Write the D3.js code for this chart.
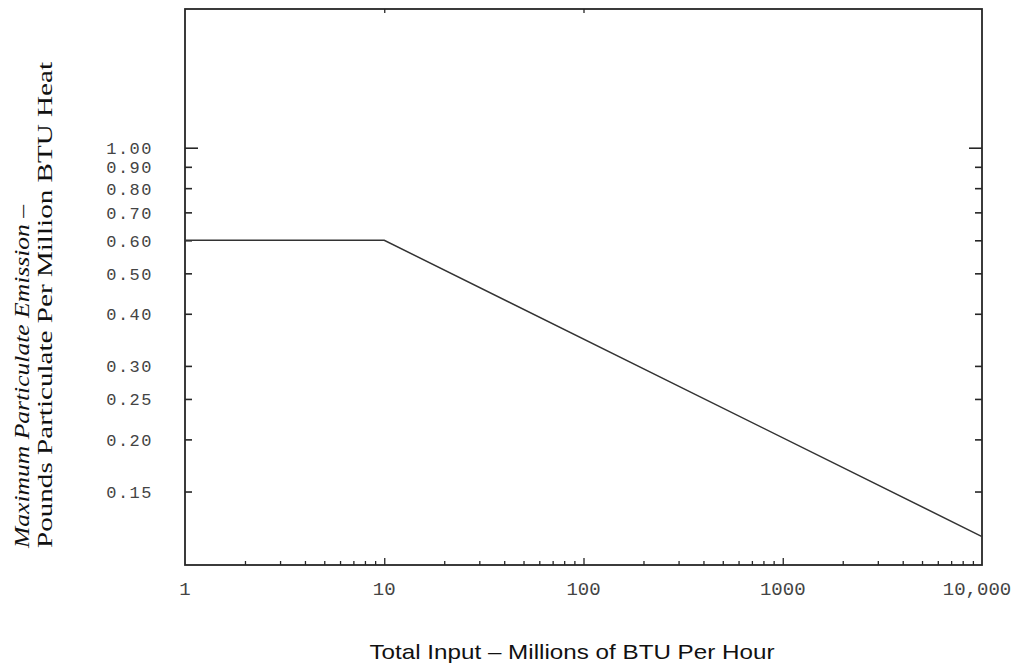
<!DOCTYPE html>
<html>
<head>
<meta charset="utf-8">
<script src="https://cdn.jsdelivr.net/npm/d3@7/dist/d3.min.js"></script>
<style>
  body { margin: 0; background: #fff; }
  svg { display: block; }
  .tl text { font-family: "Liberation Mono", "DejaVu Sans Mono", monospace; font-size: 19px; fill: #444; }
  .yl text { font-size: 17px; letter-spacing: 1.5px; }
</style>
</head>
<body>
<div id="chart"></div>
<script>
// data
const inputs = [1, 10, 10000];              // millions of BTU per hour
const emissions = [0.6, 0.6, 0.117];         // pounds per million BTU
const yTickValues = [1.0, 0.9, 0.8, 0.7, 0.6, 0.5, 0.4, 0.3, 0.25, 0.2, 0.15];
const yTickLabels = ['1.00', '0.90', '0.80', '0.70', '0.60', '0.50', '0.40', '0.30', '0.25', '0.20', '0.15'];
const xMajorValues = [1, 10, 100, 1000, 10000];
const xMajorLabels = ['1', '10', '100', '1000', '10,000'];
const xTopValues = [10, 100];

const width = 1021, height = 664;
const m = {left: 185, right: 982, top: 9, bottom: 565};
const ink = '#262626';

const svg = d3.select('#chart').append('svg')
  .attr('width', width)
  .attr('height', height);

const x = d3.scaleLog().domain([1, 10000]).range([m.left, m.right]);
const y = d3.scaleLog().domain([0.1, 2.15]).range([m.bottom, m.top]);

// minor x ticks 2..9 of each decade
const xMinor = [];
for (let d = 1; d < 10000; d *= 10) {
  for (let k = 2; k <= 9; k++) xMinor.push(d * k);
}

// frame
svg.append('rect')
  .attr('x', m.left).attr('y', m.top)
  .attr('width', m.right - m.left).attr('height', m.bottom - m.top)
  .attr('fill', 'none').attr('stroke', ink).attr('stroke-width', 1.8);

// left axis ticks + labels
const yLeft = svg.append('g').attr('class', 'tl yl')
  .attr('transform', `translate(${m.left},0)`)
  .call(d3.axisRight(y).tickValues(yTickValues).tickSize(7).tickFormat('').tickPadding(0));
yLeft.select('.domain').remove();
yLeft.selectAll('.tick line').attr('stroke', ink).attr('stroke-width', 1.6)
  .attr('x2', d => d === 1 ? 13 : 7);
yLeft.selectAll('.tick text').remove();
yLeft.selectAll('.tick').append('text')
  .attr('x', -32)
  .attr('y', 6)
  .attr('text-anchor', 'end')
  .text((d, i) => yTickLabels[i]);

// right axis ticks
const yRight = svg.append('g')
  .attr('transform', `translate(${m.right},0)`)
  .call(d3.axisLeft(y).tickValues(yTickValues).tickSize(7).tickFormat(''));
yRight.select('.domain').remove();
yRight.selectAll('.tick line').attr('stroke', ink).attr('stroke-width', 1.6)
  .attr('x2', d => d === 1 ? -13 : -7);

// bottom axis
const xBottom = svg.append('g')
  .attr('transform', `translate(0,${m.bottom})`)
  .call(d3.axisTop(x).tickValues(xMinor.concat(xMajorValues.slice(1, 4))).tickSize(4).tickFormat(''));
xBottom.select('.domain').remove();
xBottom.selectAll('.tick line').attr('stroke', ink).attr('stroke-width', 1.3)
  .attr('y2', d => xMajorValues.includes(d) ? -7 : -4);

const xLabels = svg.append('g').attr('class', 'tl');
xLabels.selectAll('text')
  .data(xMajorValues)
  .join('text')
  .attr('x', d => x(d) - (d === 10000 ? 5 : 0))
  .attr('y', 595)
  .attr('text-anchor', 'middle')
  .text((d, i) => xMajorLabels[i]);

// top axis ticks
const xTop = svg.append('g')
  .attr('transform', `translate(0,${m.top})`)
  .call(d3.axisBottom(x).tickValues(xTopValues).tickSize(4).tickFormat(''));
xTop.select('.domain').remove();
xTop.selectAll('.tick line').attr('stroke', ink).attr('stroke-width', 1.3);

// emission limit line
const line = d3.line()
  .x((d, i) => x(inputs[i]))
  .y((d, i) => y(emissions[i]));
svg.append('path')
  .datum(inputs)
  .attr('d', line)
  .attr('fill', 'none')
  .attr('stroke', '#333')
  .attr('stroke-width', 1.5);

// axis titles
svg.append('text')
  .attr('x', 572).attr('y', 659)
  .attr('text-anchor', 'middle')
  .attr('font-family', 'Liberation Sans, Arial, sans-serif')
  .attr('font-size', 21)
  .attr('fill', '#111')
  .attr('textLength', 405)
  .attr('lengthAdjust', 'spacingAndGlyphs')
  .text('Total Input – Millions of BTU Per Hour');

const yTitle = svg.append('g')
  .attr('transform', 'translate(0,548) rotate(-90)')
  .attr('font-family', 'Liberation Serif, Times New Roman, serif')
  .attr('font-size', 21)
  .attr('fill', '#111');
yTitle.append('text')
  .attr('x', 0).attr('y', 29)
  .attr('textLength', 343)
  .attr('lengthAdjust', 'spacingAndGlyphs')
  .html('<tspan font-style="italic">Maximum Particulate Emission</tspan> –');
yTitle.append('text')
  .attr('x', 0).attr('y', 52)
  .attr('textLength', 486)
  .attr('lengthAdjust', 'spacingAndGlyphs')
  .text('Pounds Particulate Per Million BTU Heat');
</script>
</body>
</html>
